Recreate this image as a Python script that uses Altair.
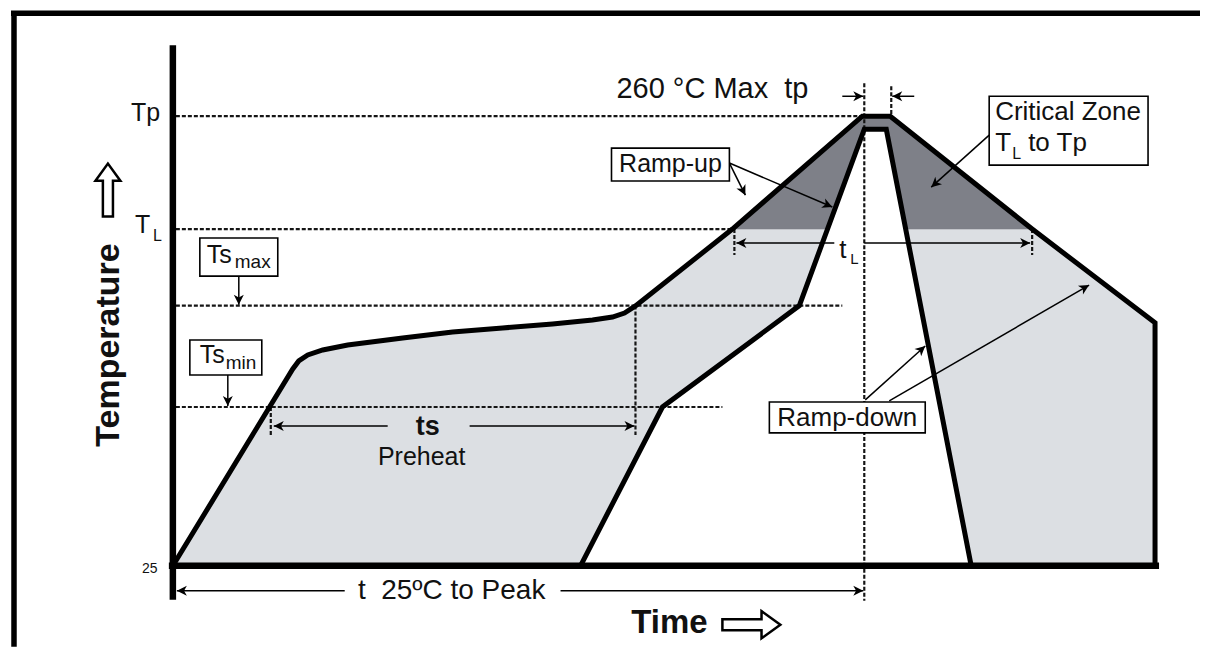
import math
import altair as alt
import pandas as pd

# ---------------- layout / style constants ----------------
W, H = 1190, 636
X_DOMAIN = [-81, 514]          # time axis (schematic seconds)
Y_DOMAIN = [-17.3, 314.83]     # temperature axis (schematic °C)
FONT = "Liberation Sans"
LIGHT = "#dcdfe3"
DARK = "#7e8088"
INK = "#000000"
DOT = "#151515"

# ---------------- data ----------------
# outer (upper-bound) reflow profile
outer_t = [0, 60, 63, 67.5, 75, 87.5, 115, 140, 165, 190, 210, 220, 226, 231.5, 280, 345, 359, 430, 491.5, 491.5]
outer_T = [25, 127.9, 132.1, 135.2, 137.8, 140.4, 144.1, 147.2, 149.3, 151.4, 153.5, 155.0, 157.1, 160.8, 201, 260, 260, 201, 152, 25]
# inner (lower-bound) reflow profile
inner_t = [204, 245, 313.5, 346, 357, 399.5]
inner_T = [25, 108, 161, 253.2, 253.2, 25]
# critical zone (T_L to Tp) part of the outer profile
crit_t = [280, 345, 359, 430]
crit_T = [201, 260, 260, 201]

# dotted reference levels: Tp, T_L, Ts_max, Ts_min
level_T = [260, 201, 161, 108]
level_t_end = [345, 280, 335, 275]

# dotted vertical markers
vmark_t = [231.5, 49, 346, 359.5, 281, 430]
vmark_T1 = [161, 108, 277.2, 275.7, 201, 201]
vmark_T2 = [93.4, 93.4, 6.7, 260, 187.4, 187.4]

# thin arrows (tail -> head)
seg_t1 = [86, 194, 107.5, 148.5, 331, 346, 335, 371, 33, 27.5, 278.5, 278.5, 408.5, 346.5, 358.5]
seg_T1 = [11.9, 11.9, 98.1, 98.1, 193.7, 193.7, 270.4, 270.4, 176.4, 124.7, 235.5, 235.5, 250.1, 111.7, 111.2]
seg_t2 = [2, 345.5, 50.5, 231, 282, 429, 345.5, 360, 33, 27.5, 286.5, 330, 379.5, 376.5, 458.5]
seg_T2 = [11.9, 11.9, 98.1, 98.1, 193.7, 193.7, 270.4, 270.4, 161.5, 108.5, 218.7, 212.5, 222.9, 139.9, 171.7]

# label boxes: Ts_max, Ts_min, Ramp-up, Critical Zone, Ramp-down
box_t1 = [13.5, 8.5, 219.5, 408.5, 298.5]
box_t2 = [52.5, 44.5, 278.5, 488, 376.5]
box_T1 = [196.3, 143.0, 243.3, 270.4, 110.6]
box_T2 = [176.4, 124.7, 226.1, 234.4, 94.5]

# texts
left_labels = ["Tp", "T", "L", "25", "Ts", "max", "Ts", "min", "Critical Zone", "T", "L", "to Tp", "t", "L"]
left_t = [-21, -19, -10, -15.5, 17, 31, 13.5, 26.5, 411.5, 411.5, 420, 428, 333.5, 339]
left_T = [261.6, 203.0, 197.3, 23.5, 187.4, 184.0, 135.2, 131.0, 262.1, 245.9, 240.2, 245.9, 190.0, 185.3]
left_size = [25, 25, 16, 14, 25, 19, 25, 19, 26, 26, 16, 26, 26, 15]

center_labels = ["260 °C Max\u00a0 tp", "t\u00a0 25ºC to Peak", "Preheat", "Ramp-up", "Ramp-down"]
center_t = [270, 139.5, 124.5, 249, 337.5]
center_T = [274.1, 11.9, 81.9, 234.9, 102.3]
center_size = [29, 28, 25, 25, 26]

bold_labels = ["ts", "Time"]
bold_t = [127.5, 248.5]
bold_T = [97.6, -4.8]
bold_size = [27, 33]

ylabel, ylabel_t, ylabel_T, ylabel_size = "Temperature", -32, 140.4, 34

# hollow direction arrows next to the axis titles
big_arrow_t = [289.5, -32.5]
big_arrow_T = [-5.8, 221.4]
big_arrow_angle = [0, 270]
big_arrow_size = [3364, 2809]

# page frame (top and left edges only)
frame_t1 = [-81, -79.5]
frame_t2 = [514, -79.5]
frame_T1 = [313.8, 314.83]
frame_T2 = [313.8, -17.3]

# ---------------- helpers ----------------
PX_T = W / (X_DOMAIN[1] - X_DOMAIN[0])
PX_C = H / (Y_DOMAIN[1] - Y_DOMAIN[0])
xs = alt.Scale(domain=X_DOMAIN, nice=False, zero=False)
ys = alt.Scale(domain=Y_DOMAIN, nice=False, zero=False)


def X(f):
    return alt.X(f, type="quantitative", scale=xs, axis=None)


def Y(f):
    return alt.Y(f, type="quantitative", scale=ys, axis=None)


HEAD = "M0,0 L-1,-0.5 L-0.72,0 L-1,0.5 Z"
HOLLOW = "M-1,-0.19 L0.35,-0.19 L0.35,-0.47 L1,0 L0.35,0.47 L0.35,0.19 L-1,0.19 Z"

outer_df = pd.DataFrame({"t": outer_t, "T": outer_T, "i": range(len(outer_t))})
inner_df = pd.DataFrame({"t": inner_t, "T": inner_T, "i": range(len(inner_t))})
crit_df = pd.DataFrame({"t": crit_t, "T": crit_T, "i": range(len(crit_t))})

hl_df = pd.DataFrame({"T": level_T, "t1": [1.5] * len(level_T), "t2": level_t_end})
vl_df = pd.DataFrame({"t": vmark_t, "T1": vmark_T1, "T2": vmark_T2})
seg_df = pd.DataFrame({"t1": seg_t1, "T1": seg_T1, "t2": seg_t2, "T2": seg_T2})
seg_df["ang"] = [
    math.degrees(math.atan2(-(b2 - b1) * PX_C, (a2 - a1) * PX_T)) % 360
    for a1, b1, a2, b2 in zip(seg_t1, seg_T1, seg_t2, seg_T2)
]
box_df = pd.DataFrame({"t1": box_t1, "t2": box_t2, "T1": box_T1, "T2": box_T2})
left_df = pd.DataFrame({"s": left_labels, "t": left_t, "T": left_T, "fs": left_size})
center_df = pd.DataFrame({"s": center_labels, "t": center_t, "T": center_T, "fs": center_size})
bold_df = pd.DataFrame({"s": bold_labels, "t": bold_t, "T": bold_T, "fs": bold_size})
ylab_df = pd.DataFrame({"s": [ylabel], "t": [ylabel_t], "T": [ylabel_T]})
big_df = pd.DataFrame({"t": big_arrow_t, "T": big_arrow_T, "ang": big_arrow_angle, "sz": big_arrow_size})
frame_df = pd.DataFrame({"t1": frame_t1, "t2": frame_t2, "T1": frame_T1, "T2": frame_T2})
axes_df = pd.DataFrame({"t1": [0, -2], "t2": [0, 493.5], "T1": [297.1, 25], "T2": [7.2, 25]})


def polygon(df, colour):
    # closed polygon drawn as a filled path through the profile points
    return alt.Chart(df).mark_line(fill=colour, color=colour, strokeWidth=0.5, fillOpacity=1,
                                   interpolate="linear-closed").encode(
        x=X("t"), y=Y("T"), order=alt.Order("i"))


# ---------------- layers ----------------
light = polygon(outer_df, LIGHT)
dark = polygon(crit_df, DARK)
white = polygon(inner_df, "white")

hlines = alt.Chart(hl_df).mark_rule(color=DOT, strokeWidth=2.2, strokeDash=[4, 2]).encode(
    x=X("t1"), x2="t2", y=Y("T"))
vlines = alt.Chart(vl_df).mark_rule(color=DOT, strokeWidth=2.2, strokeDash=[4, 2]).encode(
    x=X("t"), y=Y("T1"), y2="T2")

outer_line = alt.Chart(outer_df).mark_line(color=INK, strokeWidth=5, strokeJoin="miter").encode(
    x=X("t"), y=Y("T"), order=alt.Order("i"))
inner_line = alt.Chart(inner_df).mark_line(color=INK, strokeWidth=5, strokeJoin="miter").encode(
    x=X("t"), y=Y("T"), order=alt.Order("i"))

axes = alt.Chart(axes_df).mark_rule(color=INK, strokeWidth=6.5).encode(
    x=X("t1"), x2="t2", y=Y("T1"), y2="T2")

arrows = alt.Chart(seg_df).mark_rule(color=INK, strokeWidth=1.5).encode(
    x=X("t1"), x2="t2", y=Y("T1"), y2="T2")
heads = alt.Chart(seg_df).mark_point(shape=HEAD, filled=True, color=INK, opacity=1, size=400, strokeWidth=0).encode(
    x=X("t2"), y=Y("T2"), angle=alt.Angle("ang:Q", scale=None))

boxes = alt.Chart(box_df).mark_rect(fill="white", stroke=INK, strokeWidth=1.6).encode(
    x=X("t1"), x2="t2", y=Y("T1"), y2="T2")

txt_left = alt.Chart(left_df).mark_text(align="left", baseline="middle", font=FONT, color="#111").encode(
    x=X("t"), y=Y("T"), text="s:N", size=alt.Size("fs:Q", scale=None))
txt_center = alt.Chart(center_df).mark_text(align="center", baseline="middle", font=FONT, color="#111").encode(
    x=X("t"), y=Y("T"), text="s:N", size=alt.Size("fs:Q", scale=None))
txt_bold = alt.Chart(bold_df).mark_text(align="center", baseline="middle", font=FONT, fontWeight="bold", color="#111").encode(
    x=X("t"), y=Y("T"), text="s:N", size=alt.Size("fs:Q", scale=None))
txt_ylab = alt.Chart(ylab_df).mark_text(align="center", baseline="middle", font=FONT, fontWeight="bold",
                                         fontSize=ylabel_size, angle=270, color="#111").encode(
    x=X("t"), y=Y("T"), text="s:N")

big_arrows = alt.Chart(big_df).mark_point(shape=HOLLOW, filled=True, fill="white", stroke=INK, strokeWidth=2.5,
                                          opacity=1, fillOpacity=1, strokeOpacity=1).encode(
    x=X("t"), y=Y("T"), angle=alt.Angle("ang:Q", scale=None), size=alt.Size("sz:Q", scale=None))

frame = alt.Chart(frame_df).mark_rule(color=INK, strokeWidth=5.5).encode(
    x=X("t1"), x2="t2", y=Y("T1"), y2="T2")

chart = alt.layer(
    light, dark, white, hlines, vlines, outer_line, inner_line, axes,
    arrows, heads, boxes, txt_left, txt_center, txt_bold, txt_ylab, big_arrows, frame
).properties(width=W, height=H, padding=0, background="white").configure_view(stroke=None)

chart.save("out.html", embed_options={"renderer": "svg", "actions": False})
